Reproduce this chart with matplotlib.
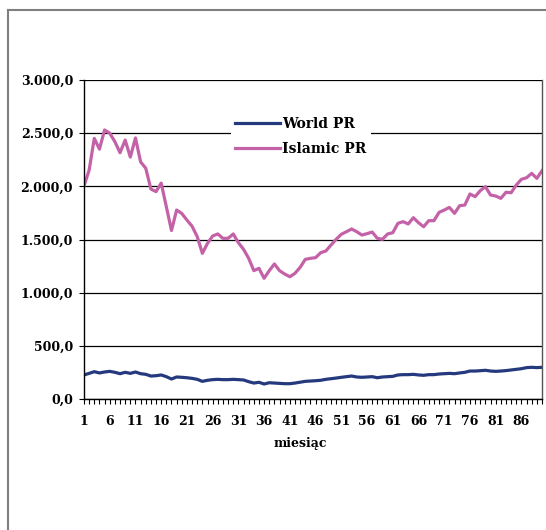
import matplotlib
matplotlib.use("Agg")
import matplotlib.pyplot as plt
from matplotlib.lines import Line2D
from matplotlib.ticker import FuncFormatter
import numpy as np

months = np.arange(1, 91)

world_pr = [
    226, 241, 257, 245, 254, 260, 251, 238, 251, 241,
    254, 238, 232, 216, 219, 226, 210, 188, 207, 204,
    200, 194, 185, 166, 176, 182, 185, 182, 182, 185,
    182, 179, 163, 150, 157, 141, 153, 150, 147, 144,
    144, 150, 158, 166, 169, 172, 176, 185, 191, 197,
    204, 210, 216, 207, 204, 207, 210, 200, 207, 210,
    213, 226, 229, 229, 232, 226, 223, 229, 229, 235,
    238, 241, 238, 245, 251, 263, 263, 266, 270, 263,
    260, 263, 267, 273, 279, 285, 295, 298, 295, 298,
]

islamic_pr = [
    2003, 2153, 2451, 2350, 2530, 2500, 2420, 2316, 2435, 2275,
    2455, 2230, 2170, 1975, 1950, 2030, 1808, 1585, 1777, 1745,
    1683, 1625, 1527, 1370, 1464, 1533, 1552, 1511, 1511, 1552,
    1470, 1408, 1323, 1207, 1229, 1135, 1207, 1270, 1207, 1175,
    1150, 1182, 1238, 1313, 1323, 1329, 1376, 1392, 1448, 1502,
    1549, 1573, 1599, 1573, 1542, 1555, 1570, 1511, 1502, 1552,
    1564, 1652, 1668, 1646, 1705, 1658, 1620, 1677, 1677, 1755,
    1777, 1802, 1746, 1818, 1824, 1928, 1903, 1959, 1997, 1918,
    1909, 1887, 1944, 1940, 2012, 2066, 2081, 2122, 2075, 2147,
]

blue = "#25397f"
pink = "#c462a8"
font = "DejaVu Serif"

W, H = 546, 530
fig = plt.figure(figsize=(W / 100, H / 100), dpi=100)
ax = fig.add_axes([84 / W, 1 - 399 / H, (542 - 84) / W, (399 - 80) / H])

ax.plot(months, world_pr, color=blue, lw=2.3, solid_joinstyle="round")
ax.plot(months, islamic_pr, color=pink, lw=2.3, solid_joinstyle="round")

ax.set_xlim(1, 90)
ax.set_ylim(0, 3000)
ax.set_yticks(np.arange(0, 3001, 500))
ax.yaxis.grid(True, color="black", lw=0.9)
ax.set_axisbelow(True)


def pl_fmt(v, pos):
    s = f"{v:,.1f}"
    return s.replace(",", " ").replace(".", ",").replace(" ", ".")


ax.yaxis.set_major_formatter(FuncFormatter(pl_fmt))
ax.set_xticks(months)
ax.set_xticklabels([str(m) if (m - 1) % 5 == 0 else "" for m in months])
ax.tick_params(axis="x", direction="out", length=3.6, width=0.8, pad=8, colors="black")
ax.tick_params(axis="y", direction="out", length=3.6, width=0.8, pad=4.3)
for lab in ax.get_xticklabels() + ax.get_yticklabels():
    lab.set_fontfamily(font)
    lab.set_fontweight("bold")
    lab.set_fontsize(9)

for side in ["left", "bottom"]:
    ax.spines[side].set_color("black")
    ax.spines[side].set_linewidth(1)
ax.spines["top"].set_visible(False)
ax.spines["right"].set_color("#555555")
ax.spines["right"].set_linewidth(1)

fig.text(300 / W, 1 - 443 / H, "miesiąc", ha="center", va="center",
         family=font, weight="bold", fontsize=9)

handles = [Line2D([], [], color=blue, lw=2.3), Line2D([], [], color=pink, lw=2.3)]
leg = ax.legend(handles, ["World PR", "Islamic PR"], loc="upper left",
                bbox_to_anchor=((231 - 84) / (542 - 84), (399 - 113) / (399 - 80)),
                frameon=True, fancybox=False, facecolor="white", edgecolor="none",
                framealpha=1, handlelength=3.2, handletextpad=0.2,
                labelspacing=0.75, borderpad=0.3, borderaxespad=0,
                prop={"family": font, "weight": "bold", "size": 10})

# outer chart frame (only left and top edges are visible)
fig.add_artist(Line2D([8 / W, 8 / W], [0, 1 - 10 / H], transform=fig.transFigure,
                      color="#7f7f7f", lw=1.5))
fig.add_artist(Line2D([8 / W, 1], [1 - 10 / H, 1 - 10 / H], transform=fig.transFigure,
                      color="#7f7f7f", lw=1.5))

fig.savefig("out.png", dpi=100)
